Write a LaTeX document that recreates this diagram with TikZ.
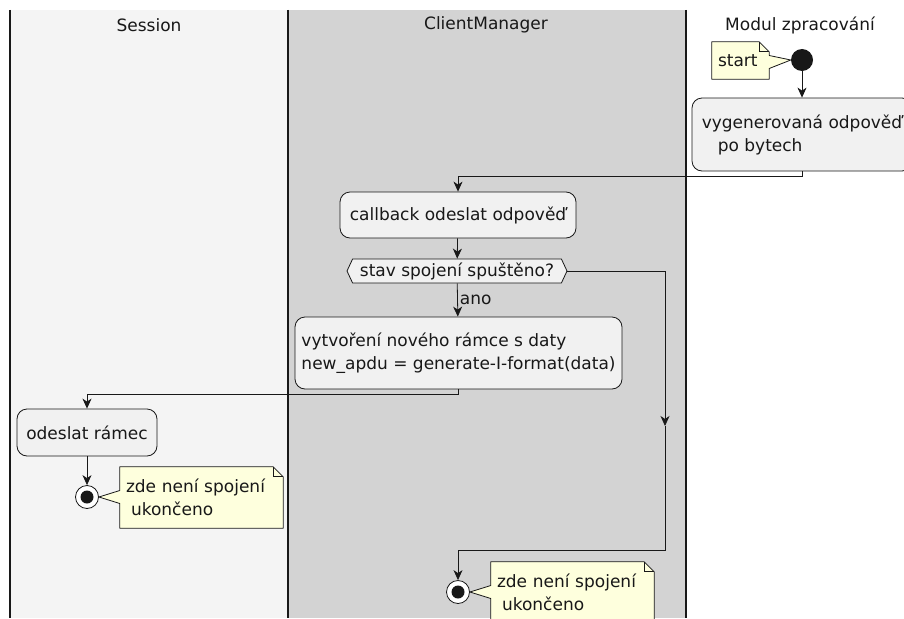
\documentclass[tikz,border=0pt]{standalone}
\usepackage{fontspec}
\setmainfont{DejaVu Sans}
\usetikzlibrary{positioning,calc,arrows.meta,shapes.symbols}
\definecolor{laneA}{HTML}{F4F4F4}
\definecolor{laneB}{HTML}{D3D3D3}
\definecolor{actfill}{HTML}{F1F1F1}
\definecolor{ink}{HTML}{181818}
\definecolor{notefill}{HTML}{FEFFDD}
\pgfdeclarelayer{bg}
\pgfsetlayers{bg,main}
\tikzset{
  txt/.style={font=\fontsize{17}{23}\selectfont, text=ink},
  lanehead/.style={txt, inner sep=0pt},
  laneline/.style={draw=ink, line width=1.5pt},
  act/.style={txt, draw=ink, fill=actfill, line width=0.8pt,
    rounded corners=10pt, align=left, inner sep=0pt},
  dec/.style={txt, draw=ink, fill=actfill, line width=0.8pt,
    shape=signal, signal to=east and west, signal from=nowhere,
    signal pointer angle=130, inner sep=0pt, minimum height=24pt},
  flow/.style={draw=ink, line width=0.8pt,
    -{Stealth[length=10pt, width=9pt, inset=3pt]}},
  startdot/.style={circle, fill=ink, minimum size=22pt, inner sep=0pt},
  enddot/.style={circle, draw=ink, fill=white, line width=0.8pt,
    minimum size=23pt, inner sep=0pt,
    path picture={\fill[ink] (path picture bounding box.center) circle (6.5pt);}},
  notetxt/.style={txt, align=left, inner xsep=6pt, inner ysep=0pt},
  noteshape/.style={draw=ink, fill=notefill, line width=0.8pt, line join=round}
}

\begin{document}
\begin{tikzpicture}[x=1pt, y=-1pt]
  \useasboundingbox (0,0) rectangle (904,618);

  % swimlanes
  \begin{pgfonlayer}{bg}
    \fill[laneA] (10,10) rectangle (288,618);
    \fill[laneB] (288,10) rectangle (686,618);
  \end{pgfonlayer}
  \draw[laneline] (10,10) -- (10,618);
  \draw[laneline] (288,10) -- (288,618);
  \draw[laneline] (686,10) -- (686,618);
  \node[lanehead] (hSession) at (149,25) {Session};
  \node[lanehead] (hClient) at (486,25) {ClientManager};
  \node[lanehead] (hModul) at (800,25) {Modul zpracování};

  % activities
  \node[startdot] (start) at (802,60) {};
  \node[act, minimum width=220pt, minimum height=73pt] (gen) at (802,134.5)
    {vygenerovaná odpověď\\\hspace*{16pt}po bytech};
  \node[act, minimum width=236pt, minimum height=46pt] (callback) at (458,215)
    {callback odeslat odpověď};
  \node[dec, minimum width=220pt] (spojeni) at (457,271) {stav spojení spuštěno?};
  \node[act, minimum width=327pt, minimum height=72pt] (ramec) at (458.5,353)
    {vytvoření nového rámce s daty\\new\_apdu = generate-I-format(data)};
  \node[act, minimum width=140pt, minimum height=47pt] (odeslat) at (87,432.5)
    {odeslat rámec};
  \node[enddot] (end1) at (87,497) {};
  \node[enddot] (end2) at (458,592) {};

  % notes
  \node[notetxt, text width=45pt, minimum height=37pt] (nStart) at (740.5,60.5) {start};
  \node[notetxt, text width=151pt, minimum height=61pt] (nEnd1) at (201.5,497.5)
    {zde není spojení\\\hspace*{5pt}ukončeno};
  \node[notetxt, text width=151pt, minimum height=61pt] (nEnd2) at (572.5,592.5)
    {zde není spojení\\\hspace*{5pt}ukončeno};
  \begin{pgfonlayer}{bg}
    \draw[noteshape] (nStart.north west) -- ($(nStart.north east)+(-10,0)$)
      -- ($(nStart.north east)+(0,10)$) -- ($(nStart.east)+(0,-5)$) -- (start.west)
      -- ($(nStart.east)+(0,8)$) -- (nStart.south east) -- (nStart.south west) -- cycle;
    \foreach \n/\e in {nEnd1/end1, nEnd2/end2}{
      \draw[noteshape] (\n.north west) -- ($(\n.north east)+(-10,0)$)
        -- ($(\n.north east)+(0,10)$) -- (\n.south east) -- (\n.south west)
        -- ($(\n.west)+(0,6)$) -- (\e.east) -- ($(\n.west)+(0,-7)$) -- cycle;
    }
  \end{pgfonlayer}
  \foreach \n in {nStart, nEnd1, nEnd2}{
    \draw[draw=ink, line width=0.8pt] ($(\n.north east)+(-10,0)$)
      -- ($(\n.north east)+(-10,10)$) -- ($(\n.north east)+(0,10)$);
  }

  % connectors
  \coordinate (skip) at (665,426);
  \coordinate (join) at (665,550);
  \draw[flow] (start) -- (gen);
  \draw[flow] (gen.south) -- ++(0,5) -| (callback.north);
  \draw[flow] (callback) -- (spojeni);
  \draw[flow] (spojeni) -- node[txt, right, inner sep=2pt] {ano} (ramec);
  \draw[flow] (spojeni.east) -| (skip);
  \draw[flow] (skip) -- (join) -| (end2.north);
  \draw[flow] (ramec.south) -- ++(0,5) -| (odeslat.north);
  \draw[flow] (odeslat) -- (end1);
\end{tikzpicture}
\end{document}
